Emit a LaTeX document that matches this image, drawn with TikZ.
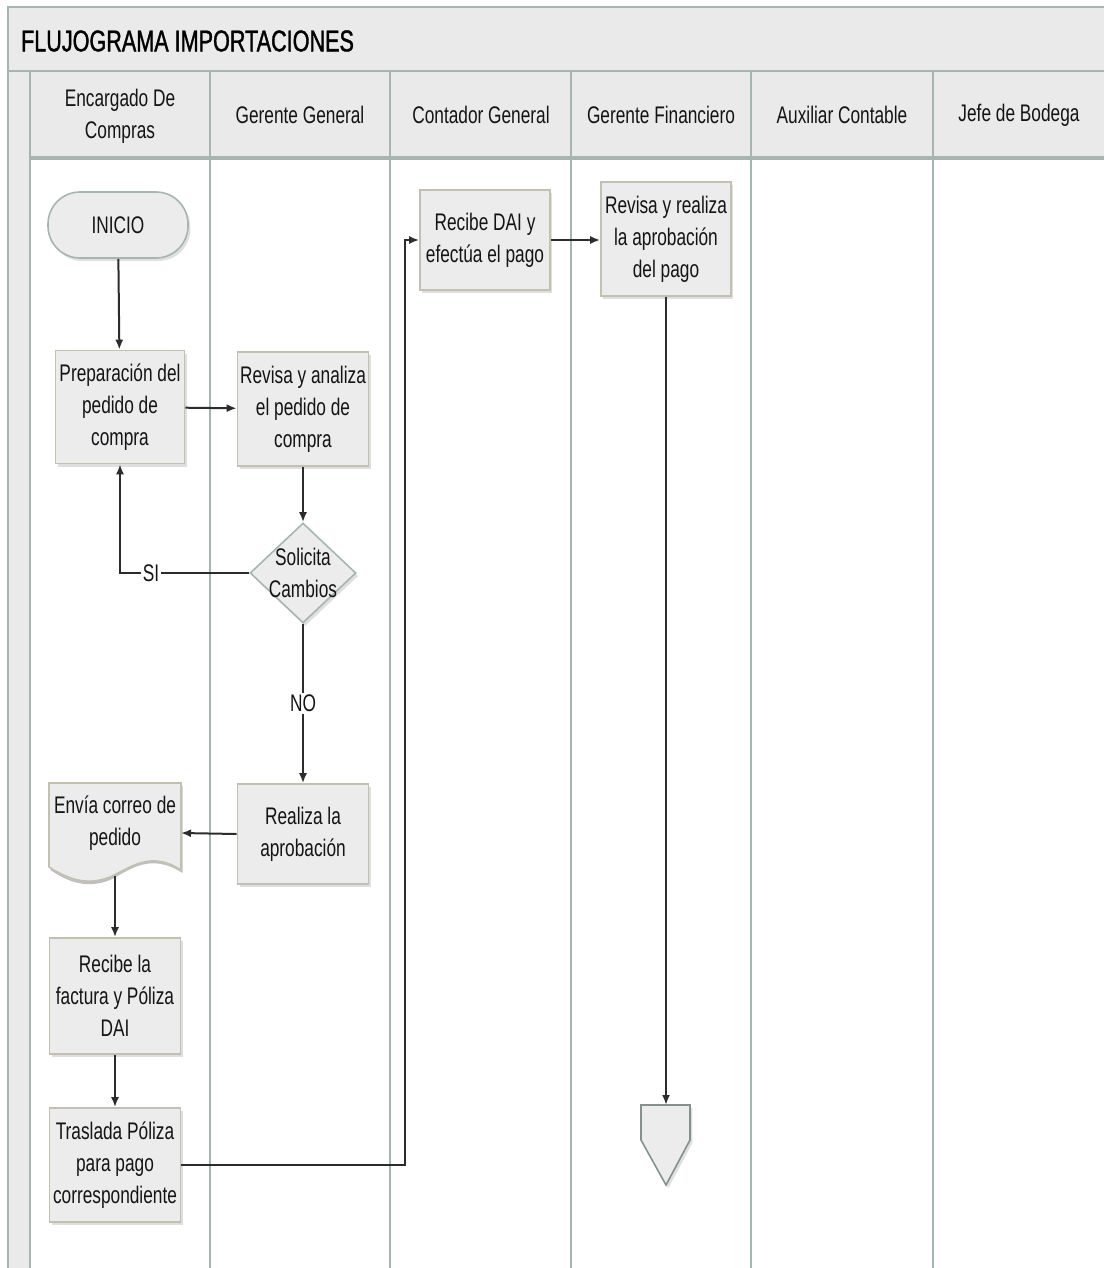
\documentclass[tikz,border=0pt]{standalone}
\usepackage{fontspec}
\setmainfont[FakeStretch=0.72]{Liberation Sans}
\newfontfamily\titlefont[FakeStretch=0.72,FakeBold=1.2]{Liberation Sans}
\usetikzlibrary{arrows.meta,shapes.geometric,shadows}

\definecolor{lanegray}{RGB}{165,182,178}
\definecolor{bandfill}{RGB}{234,234,234}
\definecolor{boxfill}{RGB}{236,236,236}
\definecolor{boxedge}{RGB}{196,192,176}
\definecolor{inkgray}{RGB}{20,20,20}

\tikzset{
	lane/.style={line width=1.4pt, color=lanegray},
	boxshadow/.style={drop shadow={opacity=0.25, shadow xshift=1.2pt, shadow yshift=-1.5pt}},
	proc/.style={draw=boxedge, fill=boxfill, line width=0.8pt, boxshadow, align=center, inner sep=1pt,
		font=\fontsize{12}{16}\selectfont, text=inkgray},
	decide/.style={diamond, draw=lanegray, fill=boxfill, line width=0.8pt, boxshadow, inner sep=0pt,
		minimum width=53pt, minimum height=50pt},
	lanetitle/.style={align=center, font=\fontsize{12}{16}\selectfont, text=inkgray},
	flow/.style={line width=1pt, color=inkgray!90, -{Latex[length=5pt,width=4pt]}},
	flowlabel/.style={fill=white, inner sep=1pt, font=\fontsize{12}{16}\selectfont, text=inkgray}
}

\begin{document}
\begin{tikzpicture}[x=0.5pt, y=-0.5pt]
		%%%%% START %%%%%
		\useasboundingbox (0,0) rectangle (1104,1268);
		
		% title band and header row
		\fill[bandfill] (8,7) rectangle (1104,70);
		\fill[bandfill] (30,72) rectangle (1104,158);
		\fill[bandfill] (8,70) rectangle (30,1268);
		\draw[lane] (8,1268) -- (8,7) -- (1104,7);
		\draw[lane] (8,71) -- (1104,71);
		\draw[lane, line width=2pt] (30,158) -- (1104,158);
		\foreach \x in {30,210,390,571,751,933}
			\draw[lane] (\x,72) -- (\x,1268);
		
		\node[anchor=west, font=\titlefont\fontsize{15}{18}\selectfont, text=black] (titulo) at (14,41) {FLUJOGRAMA IMPORTACIONES};
		
		\node[lanetitle] (encargado) at (120,116) {Encargado De\\Compras};
		\node[lanetitle] (gerente) at (300,115) {Gerente General};
		\node[lanetitle] (contador) at (481,115) {Contador General};
		\node[lanetitle] (financiero) at (661,115) {Gerente Financiero};
		\node[lanetitle] (auxiliar) at (842,115) {Auxiliar Contable};
		\node[lanetitle] (bodega) at (1019,115) {Jefe de Bodega};
		
		% Encargado De Compras
		\node[proc, draw=lanegray, rounded corners=16pt, minimum width=70pt, minimum height=33pt] (inicio) at (118,225) {INICIO};
		\node[proc, minimum width=64.5pt, minimum height=56.5pt] (prep) at (120,407) {Preparación del\\pedido de\\compra};
		
		\fill[black, opacity=0.25] (50.5,786) -- (182.5,786) -- (182.5,873)
			.. controls (150,852) and (130,870) .. (110,880) .. controls (85,890) and (65,880) .. (50.5,870) -- cycle;
		\draw[boxedge, fill=boxfill, line width=0.8pt] (49,783) -- (181,783) -- (181,870)
			.. controls (150,850) and (130,868) .. (110,877) .. controls (85,887) and (65,877) .. (49,867) -- cycle;
		\node[lanetitle] (correo) at (115,823) {Envía correo de\\pedido};
		\coordinate (correo-pie) at (115,876);
		
		\node[proc, minimum width=65.5pt, minimum height=58pt] (factura) at (115,996) {Recibe la\\factura y Póliza\\DAI};
		\node[proc, minimum width=65.5pt, minimum height=57pt] (traslada) at (115,1165) {Traslada Póliza\\para pago\\correspondiente};
		
		% Gerente General
		\node[proc, minimum width=65.5pt, minimum height=57pt] (revisa) at (303,409) {Revisa y analiza\\el pedido de\\compra};
		\node[decide] (solicita) at (303,573) {};
		\node[lanetitle] (solicita-txt) at (303,573) {Solicita\\Cambios};
		\node[proc, minimum width=65.5pt, minimum height=50pt] (aprob) at (303,834) {Realiza la\\aprobación};
		
		% Contador General y Gerente Financiero
		\node[proc, minimum width=65pt, minimum height=50pt] (dai) at (485,240) {Recibe DAI y\\efectúa el pago};
		\node[proc, minimum width=65pt, minimum height=57pt] (pago) at (666,239) {Revisa y realiza\\la aprobación\\del pago};
		
		\draw[draw=lanegray!80!black, fill=boxfill, line width=0.8pt, boxshadow] (641,1105) -- (690,1105) -- (690,1140) -- (666,1185) -- (641,1140) -- cycle;
		\coordinate (fin) at (666,1105);
		
		% conectores
		\draw[flow] (inicio) -- (prep);
		\draw[flow] (prep) -- (revisa);
		\draw[flow] (revisa) -- (solicita);
		\draw[flow] (solicita.west) -| node[flowlabel, pos=0.38] {SI} (prep.south);
		\draw[flow] (solicita.south) -- node[flowlabel, pos=0.5] {NO} (aprob.north);
		\draw[flow] (aprob.west) -- (181,833);
		\draw[flow] (correo-pie) -- (factura.north);
		\draw[flow] (factura) -- (traslada);
		\coordinate (codo) at (405,240);
		\draw[flow] (traslada.east) -| (codo) -- (dai.west);
		\draw[flow] (dai.east) -- (pago.west |- dai.east);
		\draw[flow] (pago.south) -- (fin);
		
		%%%%% END %%%%%
	\end{tikzpicture}
\end{document}
